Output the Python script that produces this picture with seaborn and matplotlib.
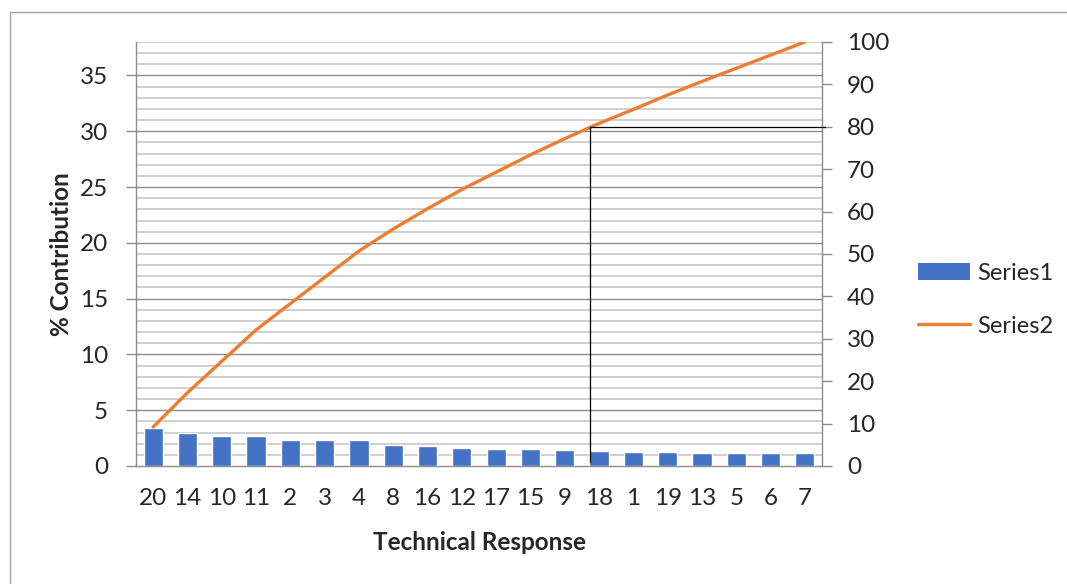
import numpy as np
import seaborn as sns
import matplotlib.pyplot as plt
from matplotlib.patches import Patch, Rectangle
from matplotlib.lines import Line2D
from matplotlib.ticker import MultipleLocator

# Technical responses, sorted by contribution
categories = ["20", "14", "10", "11", "2", "3", "4", "8", "16", "12",
              "17", "15", "9", "18", "1", "19", "13", "5", "6", "7"]
# Series1: % contribution (left axis)
contribution = [3.4, 3.0, 2.7, 2.7, 2.3, 2.3, 2.3, 1.9, 1.8, 1.65,
                1.5, 1.48, 1.41, 1.32, 1.23, 1.23, 1.17, 1.14, 1.14, 1.14]
# Series2: cumulative % (right axis)
cumulative = [9.2, 17.3, 24.7, 32.1, 38.3, 44.5, 50.7, 55.9, 60.7, 65.2,
              69.3, 73.4, 77.2, 80.8, 84.1, 87.5, 90.7, 93.8, 96.9, 100]
# 80% cut-off marker
cutoff_pct = 80
cutoff_x = 12.75

sns.set_theme(style="white")
plt.rcParams["font.family"] = ["Lato", "DejaVu Sans"]

bar_color = "#4472C4"
line_color = "#ED7D31"
grid_major = "#8c8c8c"
grid_minor = "#cfcfcf"
tick_fs = 17.5

fig = plt.figure(figsize=(10.67, 5.84), dpi=100)
ax = fig.add_axes([136 / 1067, 1 - 466 / 584, (822 - 136) / 1067, (466 - 42) / 584])

sns.barplot(x=categories, y=contribution, order=categories, color=bar_color,
            width=0.56, saturation=1, ax=ax, zorder=3)
ax.set_xlim(-0.5, len(categories) - 0.5)
ax.set_ylim(0, 38)
ax.yaxis.set_major_locator(MultipleLocator(5))
ax.yaxis.set_minor_locator(MultipleLocator(1))
ax.grid(False)
ax.set_axisbelow(True)
for v in np.arange(1, 39, 1):
    ax.axhline(v, color=grid_major if v % 5 == 0 else grid_minor,
               lw=1.0 if v % 5 == 0 else 1.4, zorder=0)

ax.tick_params(axis="y", which="major", direction="out", length=7, width=1,
               color=grid_major, labelsize=tick_fs, pad=13, left=True)
ax.tick_params(axis="y", which="minor", length=0)
ax.tick_params(axis="x", length=0, labelsize=tick_fs, pad=16)
ax.set_xlabel("Technical Response", fontsize=17.5, fontweight="bold")
ax.set_ylabel("% Contribution", fontsize=17.5, fontweight="bold")
ax.xaxis.set_label_coords(0.5, (466 - 543) / 424, transform=ax.transAxes)
ax.yaxis.set_label_coords((62 - 136) / 686, 0.5, transform=ax.transAxes)
ax.xaxis.label.set_va("center")
ax.yaxis.label.set_va("center")
for s in ["top", "right"]:
    ax.spines[s].set_visible(False)
for s in ["left", "bottom"]:
    ax.spines[s].set_color(grid_major)
    ax.spines[s].set_linewidth(1.0)

ax2 = ax.twinx()
sns.lineplot(x=np.arange(len(categories)), y=cumulative, color=line_color,
             lw=2.4, ax=ax2, zorder=4)
ax2.set_ylim(0, 100)
ax2.yaxis.set_major_locator(MultipleLocator(10))
ax2.grid(False)
ax2.tick_params(axis="y", direction="out", length=7, width=1, color=grid_major,
                labelsize=tick_fs, pad=11, right=True)
ax2.set_ylabel("")
for s in ["top", "left", "bottom"]:
    ax2.spines[s].set_visible(False)
ax2.spines["right"].set_color(grid_major)
ax2.spines["right"].set_linewidth(1.0)

# 80% reference lines
ax2.plot([cutoff_x, cutoff_x], [1, cutoff_pct], color="black", lw=0.9, zorder=5)
ax2.plot([cutoff_x, len(categories) - 0.4], [cutoff_pct, cutoff_pct],
         color="black", lw=0.9, zorder=5, clip_on=False)

handles = [Patch(facecolor=bar_color, edgecolor="none"),
           Line2D([0], [0], color=line_color, lw=2.4)]
fig.legend(handles, ["Series1", "Series2"], loc="center left",
           bbox_to_anchor=(918 / 1067, 1 - 300 / 584), frameon=False,
           fontsize=17, handlelength=2.2, handleheight=0.75,
           labelspacing=1.35, handletextpad=0.3, borderpad=0, borderaxespad=0)

# outer chart border
fig.patches.append(Rectangle((10 / 1067, -0.1), 1.2, 1.1 - 12 / 584,
                             transform=fig.transFigure, fill=False,
                             edgecolor="#a6a6a6", lw=1.0))

fig.savefig("out.png", dpi=100)
